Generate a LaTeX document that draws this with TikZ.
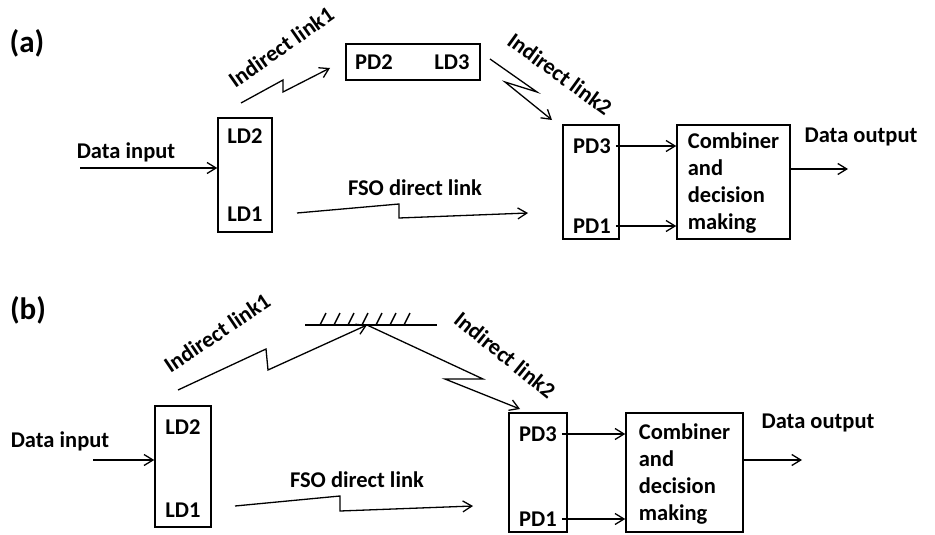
\documentclass[tikz,border=0pt]{standalone}
\usepackage{fontspec}
\setmainfont{Carlito}
\usetikzlibrary{arrows.meta}
\begin{document}
\begin{tikzpicture}[x=1pt,y=-1pt,
  lbl/.style={font=\fontsize{22.5}{26.7}\selectfont\bfseries, inner sep=1pt},
  panel/.style={font=\fontsize{31}{34}\selectfont\bfseries},
  box/.style={draw, line width=1.5pt, rectangle, inner sep=0pt},
  arr/.style={line width=1.3pt, -{Straight Barb[length=9pt,width=11pt]}},
  zig/.style={line width=1.3pt, line join=miter, -{Straight Barb[length=9pt,width=11pt]}},
  ]
\useasboundingbox (0,0) rectangle (935,535);

% ---------------- (a) relay with a PD2/LD3 repeater ----------------
\node[panel] (tagA) at (27,43) {(a)};

% transmitter
\node[box, minimum width=54pt, minimum height=114pt] (ldA) at (245,175) {};
\node[lbl] (ld2A) at (245,136) {LD2};
\node[lbl] (ld1A) at (245,214) {LD1};
\node[lbl] (inA) at (126,152) {Data input};
\coordinate (inAs) at (80,168);
\draw[arr] (inAs) -- (inAs -| ldA.west);

% repeater
\node[box, minimum width=134pt, minimum height=36pt] (relayA) at (413,62) {};
\node[lbl] (pd2A) at (374,62) {PD2};
\node[lbl] (ld3A) at (452,62) {LD3};

% indirect link 1
\coordinate (a1s) at (241,103);
\coordinate (a1k) at (283,80);
\coordinate (a1m) at (283,92);
\coordinate (a1e) at (330,68);
\draw[zig] (a1s) -- (a1k) -- (a1m) -- (a1e);
\node[lbl, rotate=35] (il1A) at (281,47) {Indirect link1};

% indirect link 2
\coordinate (a2s) at (490,59);
\coordinate (a2k) at (537,92);
\coordinate (a2m) at (505,82);
\coordinate (a2e) at (552,120);
\draw[zig] (a2s) -- (a2k) -- (a2m) -- (a2e);
\node[lbl, rotate=-36] (il2A) at (560,74) {Indirect link2};

% direct link
\coordinate (ads) at (297,213);
\coordinate (adk) at (399,204);
\coordinate (adm) at (399,218);
\coordinate (ade) at (528,213);
\draw[zig] (ads) -- (adk) -- (adm) -- (ade);
\node[lbl] (fsoA) at (415,188) {FSO direct link};

% receiver
\node[box, minimum width=56pt, minimum height=114pt] (pdA) at (591,182) {};
\node[lbl] (pd3A) at (592,146) {PD3};
\node[lbl] (pd1A) at (592,226) {PD1};
\node[box, minimum width=113pt, minimum height=114pt] (combA) at (733.5,182) {};
\node[lbl, align=left] (combtA) at (733.5,183) {Combiner\\and\\decision\\making};
\draw[arr] ([xshift=4pt]pd3A.east) -- (pd3A.east -| combA.west);
\draw[arr] ([xshift=4pt]pd1A.east) -- (pd1A.east -| combA.west);
\coordinate (outA) at (848,169);
\draw[arr] (combA.east |- outA) -- (outA);
\node[lbl] (doA) at (861,137) {Data output};

% ---------------- (b) relay with a reflecting mirror ----------------
\node[panel] (tagB) at (28,310) {(b)};

% transmitter
\node[box, minimum width=56pt, minimum height=121pt] (ldB) at (183,466.5) {};
\node[lbl] (ld2B) at (183,427) {LD2};
\node[lbl] (ld1B) at (183,510) {LD1};
\node[lbl] (inB) at (60,441) {Data input};
\coordinate (inBs) at (93,460);
\draw[arr] (inBs) -- (inBs -| ldB.west);

% mirror
\coordinate (mL) at (305,325);
\coordinate (mR) at (437,325);
\coordinate (mC) at (367,325);
\draw[line width=2pt] (mL) -- (mR);
\foreach \k in {0,...,6}
  \draw[line width=1.5pt] (320+14*\k,325) -- ++(6,-12);

% indirect link 1
\coordinate (b1s) at (178,390);
\coordinate (b1k) at (266,349);
\coordinate (b1m) at (268,370);
\draw[zig] (b1s) -- (b1k) -- (b1m) -- (mC);
\node[lbl, rotate=34] (il1B) at (217,333) {Indirect link1};

% indirect link 2
\coordinate (b2k) at (483,379);
\coordinate (b2m) at (445,379);
\coordinate (b2e) at (520,409);
\draw[zig] (mC) -- (b2k) -- (b2m) -- (b2e);
\node[lbl, rotate=-39] (il2B) at (505,355) {Indirect link2};

% direct link
\coordinate (bds) at (235,506);
\coordinate (bdk) at (340,496);
\coordinate (bdm) at (340,511);
\coordinate (bde) at (473,506);
\draw[zig] (bds) -- (bdk) -- (bdm) -- (bde);
\node[lbl] (fsoB) at (357,480) {FSO direct link};

% receiver
\node[box, minimum width=58pt, minimum height=119pt] (pdB) at (538,472.5) {};
\node[lbl] (pd3B) at (538,434) {PD3};
\node[lbl] (pd1B) at (538,519) {PD1};
\node[box, minimum width=117pt, minimum height=119pt] (combB) at (684.5,472.5) {};
\node[lbl, align=left] (combtB) at (684.5,474) {Combiner\\and\\decision\\making};
\draw[arr] ([xshift=4pt]pd3B.east) -- (pd3B.east -| combB.west);
\draw[arr] ([xshift=4pt]pd1B.east) -- (pd1B.east -| combB.west);
\coordinate (outB) at (802,460);
\draw[arr] (combB.east |- outB) -- (outB);
\node[lbl] (doB) at (818,423) {Data output};
\end{tikzpicture}
\end{document}
